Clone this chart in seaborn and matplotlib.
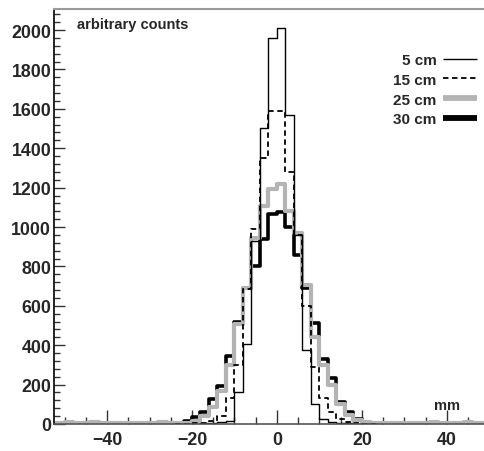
import matplotlib
matplotlib.use("Agg")
import matplotlib.pyplot as plt
from matplotlib.lines import Line2D
from matplotlib.ticker import MultipleLocator
import pandas as pd
import seaborn as sns

sns.set_style("ticks")
plt.rcParams["font.family"] = ["Liberation Sans", "DejaVu Sans"]
plt.rcParams["font.weight"] = "bold"

# bin centres (mm) of the 2 mm bins around the peak
core_centers = [-23, -21, -19, -17, -15, -13, -11, -9, -7, -5, -3, -1,
                1, 3, 5, 7, 9, 11, 13, 15, 17, 19, 21, 23]

counts_5cm = [0, 0, 2, 3, 5, 8, 17, 160, 406, 930, 1505, 1962,
              2012, 1570, 960, 378, 102, 25, 12, 5, 3, 2, 0, 0]
counts_15cm = [0, 2, 4, 6, 15, 40, 130, 300, 685, 990, 1350, 1590,
               1590, 1277, 960, 600, 290, 130, 60, 25, 10, 4, 2, 0]
counts_25cm = [6, 6, 17, 40, 85, 170, 300, 507, 690, 946, 1105, 1193,
               1218, 1081, 970, 705, 440, 300, 200, 100, 45, 18, 8, 5]
counts_30cm = [4, 15, 36, 61, 127, 193, 345, 517, 692, 802, 939, 1066,
               1076, 1000, 860, 690, 513, 330, 234, 112, 60, 25, 10, 4]

# faint tails of the 25 cm profile far from the centre
tail_centers_left = [-51, -49, -47, -45, -43, -41, -39, -37, -35, -33, -31, -29, -27, -25]
tail_25cm_left = [3, 8, 3, 3, 9, 3, 3, 3, 3, 3, 3, 4, 8, 5]
tail_centers_right = [25, 27, 29, 31, 33, 35, 37, 39, 41, 43, 45, 47, 49]
tail_25cm_right = [4, 3, 3, 3, 3, 3, 8, 3, 3, 3, 8, 3, 4]

labels = ["5 cm", "15 cm", "25 cm", "30 cm"]


def edges_for(centers):
    return [c - 1 for c in centers] + [centers[-1] + 1]


fig = plt.figure(figsize=(4.85, 4.52), dpi=100)
ax = fig.add_axes([54 / 485, 1 - 425 / 452, 1 - 54 / 485, 415 / 452])

x25 = tail_centers_left + core_centers + tail_centers_right
w25 = tail_25cm_left + counts_25cm + tail_25cm_right

grey = "#b4b4b4"
styles = {
    "30 cm": dict(color="black", linewidth=2.6, linestyle="-"),
    "25 cm": dict(color=grey, linewidth=3.0, linestyle="-"),
    "15 cm": dict(color="black", linewidth=1.3, linestyle=(0, (3, 2))),
    "5 cm": dict(color="black", linewidth=1.0, linestyle="-"),
}

series = [
    ("30 cm", core_centers, counts_30cm),
    ("25 cm", x25, w25),
    ("15 cm", core_centers, counts_15cm),
    ("5 cm", core_centers, counts_5cm),
]
for name, xs, ws in series:
    df = pd.DataFrame({"mm": xs, "counts": ws})
    sns.histplot(data=df, x="mm", weights="counts", bins=edges_for(xs),
                 element="step", fill=False, ax=ax, **styles[name])

ax.set_xlim(-52.5, 49)
ax.set_ylim(0, 2107)
ax.set_xlabel("")
ax.set_ylabel("")

ax.xaxis.set_major_locator(MultipleLocator(20))
ax.xaxis.set_minor_locator(MultipleLocator(5))
ax.yaxis.set_major_locator(MultipleLocator(200))
ax.yaxis.set_minor_locator(MultipleLocator(40))
ax.tick_params(axis="both", which="both", direction="in", color="#333333",
               labelsize=12.8)
ax.tick_params(axis="x", which="major", length=10, width=1, pad=5)
ax.tick_params(axis="x", which="minor", length=5, width=1)
ax.tick_params(axis="y", which="major", length=8, width=1, pad=2)
ax.tick_params(axis="y", which="minor", length=4, width=1)
for lab in ax.get_xticklabels() + ax.get_yticklabels():
    lab.set_fontweight("bold")

ax.spines["right"].set_visible(False)
ax.spines["top"].set_color("#999999")
ax.spines["top"].set_linewidth(1.5)
ax.spines["left"].set_color("black")
ax.spines["left"].set_linewidth(1.2)
ax.spines["bottom"].set_color("#555555")
ax.spines["bottom"].set_linewidth(1.2)

fig.text(77 / 485, 1 - 25 / 452, "arbitrary counts", fontsize=10.5,
         fontweight="bold", va="center", ha="left")
fig.text(447 / 485, 1 - 406 / 452, "mm", fontsize=10.5,
         fontweight="bold", va="center", ha="center")

legend_widths = {"5 cm": 1.0, "15 cm": 1.3, "25 cm": 4.2, "30 cm": 4.2}
handles = [Line2D([], [], solid_capstyle="butt", dash_capstyle="butt",
                  **{**styles[lab], "linewidth": legend_widths[lab]})
           for lab in labels]
ax.legend(handles, labels, loc="upper right", frameon=False, markerfirst=False,
          bbox_to_anchor=(477 / 485, 1 - 54 / 452), bbox_transform=fig.transFigure,
          borderpad=0, borderaxespad=0, handlelength=2.2, handletextpad=0.45,
          labelspacing=0.38, prop=dict(size=11, weight="bold"))

fig.savefig("out.png", dpi=100)
